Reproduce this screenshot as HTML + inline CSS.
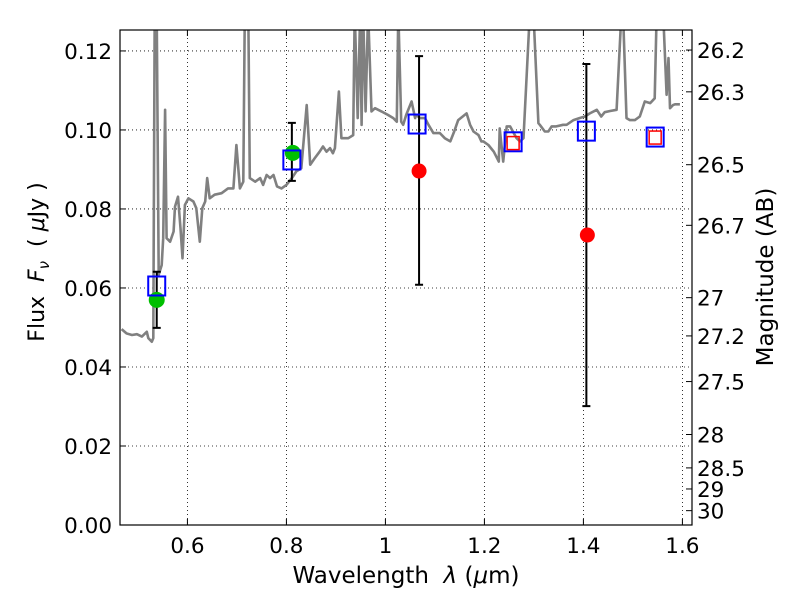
<!DOCTYPE html>
<html><head><meta charset="utf-8"><style>
body{margin:0;background:#fff;}
svg text{font-family:"DejaVu Sans","Liberation Sans",sans-serif;}
</style></head><body>
<svg id="chart" width="800" height="600" xmlns="http://www.w3.org/2000/svg">
<rect width="800" height="600" fill="#fff"/>
<g id="grid"></g>
<g id="clip-group" clip-path="url(#pc)"><clipPath id="pc"><rect x="120" y="30" width="572" height="495"/></clipPath>
<polyline id="spectrum" fill="none" stroke="#808080" stroke-width="2.6" stroke-linejoin="round"/>
</g>
<g id="marks"></g>
<rect x="120" y="30" width="572" height="495" fill="none" stroke="#000" stroke-width="1.2"/>
<g id="axes"></g>
<text x="406" y="583" font-size="23" text-anchor="middle">Wavelength&#160;&#160;<tspan font-style="italic">λ</tspan> (<tspan font-style="italic">μ</tspan>m)</text>
<text transform="translate(44,262) rotate(-90)" font-size="22" text-anchor="middle">Flux&#160;&#160;<tspan font-style="italic">F</tspan><tspan font-style="italic" font-size="15" dy="5">ν</tspan><tspan dy="-5">&#160;&#160;( </tspan><tspan font-style="italic">μ</tspan>Jy )</text>
<text transform="translate(773,277) rotate(-90)" font-size="23" text-anchor="middle">Magnitude (AB)</text>
</svg>
<script>
const specLam=[0.467,0.477,0.488,0.498,0.508,0.518,0.521,0.528,0.531,0.534,0.538,0.542,0.548,0.551,0.555,0.558,0.565,0.572,0.575,0.581,0.586,0.590,0.595,0.602,0.612,0.618,0.625,0.630,0.636,0.640,0.645,0.655,0.669,0.682,0.693,0.699,0.706,0.713,0.716,0.723,0.726,0.737,0.747,0.753,0.760,0.767,0.774,0.781,0.790,0.800,0.811,0.820,0.830,0.841,0.848,0.857,0.867,0.874,0.881,0.888,0.894,0.898,0.906,0.911,0.925,0.935,0.938,0.944,0.949,0.952,0.955,0.960,0.965,0.972,0.979,0.992,1.005,1.016,1.023,1.026,1.032,1.036,1.042,1.053,1.060,1.062,1.070,1.080,1.087,1.097,1.110,1.120,1.131,1.139,1.147,1.164,1.171,1.178,1.188,1.194,1.198,1.208,1.219,1.229,1.231,1.238,1.245,1.252,1.265,1.272,1.279,1.292,1.299,1.309,1.312,1.322,1.329,1.336,1.345,1.359,1.366,1.380,1.392,1.403,1.413,1.427,1.436,1.443,1.454,1.467,1.477,1.480,1.487,1.494,1.504,1.514,1.524,1.535,1.544,1.548,1.561,1.568,1.572,1.575,1.581,1.585,1.595,1.622];
const specFlux=[0.0496,0.0485,0.0481,0.0483,0.0477,0.0489,0.0473,0.0464,0.0473,0.13,0.13,0.0633,0.0658,0.0726,0.1051,0.0726,0.0717,0.0743,0.0806,0.0831,0.0751,0.0675,0.0810,0.0827,0.0819,0.0802,0.0717,0.0802,0.0819,0.0878,0.0827,0.0836,0.0840,0.0852,0.0852,0.0962,0.0852,0.0869,0.13,0.13,0.0878,0.0869,0.0878,0.0861,0.0886,0.0878,0.0886,0.0857,0.0852,0.0861,0.0878,0.0895,0.0903,0.1063,0.0912,0.0928,0.0945,0.0958,0.0945,0.0954,0.0941,0.0954,0.1097,0.0979,0.0979,0.0987,0.13,0.1030,0.13,0.1013,0.13,0.1047,0.13,0.1047,0.1055,0.1047,0.1038,0.1030,0.1021,0.13,0.1021,0.1013,0.1038,0.1072,0.1030,0.1038,0.1030,0.1030,0.1013,0.0992,0.0992,0.0979,0.0971,0.0996,0.1025,0.1042,0.1013,0.0996,0.0987,0.0971,0.0971,0.0962,0.0945,0.0920,0.1004,0.0920,0.1009,0.1009,0.0979,0.0971,0.0979,0.13,0.13,0.1017,0.1013,0.0996,0.0996,0.1009,0.1009,0.1013,0.1013,0.1025,0.1030,0.1034,0.1042,0.1051,0.1034,0.1045,0.1048,0.1051,0.13,0.13,0.1030,0.1025,0.1025,0.1034,0.1072,0.1068,0.1080,0.13,0.13,0.1089,0.1182,0.1055,0.1063,0.1065,0.1065];
const boxLam=[0.538,0.811,1.064,1.258,1.406,1.545];
const boxFlux=[0.0605,0.0924,0.1015,0.0970,0.0997,0.0982];
const redBoxLam=[1.258,1.545];
const redBoxFlux=[0.0968,0.0982];
const greenLam=[0.538,0.813];
const greenFlux=[0.0570,0.0942];
const redLam=[1.068,1.408];
const redFlux=[0.0896,0.0734];
const errLam=[0.538,0.811,1.068,1.406];
const errLo=[0.0499,0.0871,0.0608,0.0301];
const errHi=[0.0641,0.1018,0.1187,0.1167];
const xTicks=[0.6,0.8,1.0,1.2,1.4,1.6];
const xTickLabels=["0.6","0.8","1","1.2","1.4","1.6"];
const yTicks=[0,0.02,0.04,0.06,0.08,0.10,0.12];
const yTickLabels=["0.00","0.02","0.04","0.06","0.08","0.10","0.12"];
const magTicks=[26.2,26.3,26.5,26.7,27,27.2,27.5,28,28.5,29,30];
const magLabels=["26.2","26.3","26.5","26.7","27","27.2","27.5","28","28.5","29","30"];

const X0=120,X1=692,Y0=525,Y1=30,LMIN=0.4638,LMAX=1.6194,FMAX=0.1253;
const sx=l=>X0+(l-LMIN)/(LMAX-LMIN)*(X1-X0);
const sy=f=>Y0-f/FMAX*(Y0-Y1);
const NS="http://www.w3.org/2000/svg";
function mk(tag,attrs,parent){const e=document.createElementNS(NS,tag);for(const k in attrs)e.setAttribute(k,attrs[k]);parent.appendChild(e);return e;}
const grid=document.getElementById('grid'),axes=document.getElementById('axes'),marks=document.getElementById('marks');
xTicks.forEach((t,i)=>{const x=sx(t);
 const g=mk('line',{x1:x,x2:x,y1:Y1,y2:Y0,stroke:'#000','stroke-width':0.8,'stroke-dasharray':'1,3'},grid);
 
 mk('line',{x1:x,x2:x,y1:Y0,y2:Y0-6,stroke:'#000'},axes);
 mk('line',{x1:x,x2:x,y1:Y1,y2:Y1+6,stroke:'#000'},axes);
 const tx=mk('text',{x:x,y:553,'font-size':21.5,'text-anchor':'middle'},axes);tx.textContent=xTickLabels[i];
 });
yTicks.forEach((t,i)=>{const y=sy(t);
 const g=mk('line',{x1:X0,x2:X1,y1:y,y2:y,stroke:'#000','stroke-width':0.8,'stroke-dasharray':'1,3'},grid);
 
 mk('line',{x1:X0,x2:X0+6,y1:y,y2:y,stroke:'#000'},axes);
 const tx=mk('text',{x:112,y:y+8,'font-size':21.5,'text-anchor':'end'},axes);tx.textContent=yTickLabels[i];
 });
magTicks.forEach((m,i)=>{const y=sy(Math.pow(10,(23.9-m)/2.5));
 mk('line',{x1:X1,x2:X1-6,y1:y,y2:y,stroke:'#000'},axes);
 const tx=mk('text',{x:697,y:y+8,'font-size':21.5},axes);tx.textContent=magLabels[i];
 });
document.getElementById('spectrum').setAttribute('points',specLam.map((l,i)=>sx(l).toFixed(1)+','+sy(specFlux[i]).toFixed(1)).join(' '));
errLam.forEach((l,i)=>{const x=sx(l),a=sy(errLo[i]),b=sy(errHi[i]);
 const e=mk('path',{d:`M${x},${a}V${b}M${x-4},${a}H${x+4}M${x-4},${b}H${x+4}`,stroke:'#000','stroke-width':2,fill:'none'},marks);
 });
greenLam.forEach((l,i)=>{const c=mk('circle',{cx:sx(l),cy:sy(greenFlux[i]),r:8,fill:'#00bf00'},marks);
 });
redLam.forEach((l,i)=>{const c=mk('circle',{cx:sx(l),cy:sy(redFlux[i]),r:7.5,fill:'#ff0000'},marks);
 });
boxLam.forEach((l,i)=>{const r=mk('rect',{x:sx(l)-8.5,y:sy(boxFlux[i])-9.5,width:17,height:19,fill:'none',stroke:'#0000ff','stroke-width':2},marks);
 });
redBoxLam.forEach((l,i)=>{const r=mk('rect',{x:sx(l)-6,y:sy(redBoxFlux[i])-6,width:12,height:13,fill:'none',stroke:'#ff0000','stroke-width':1.5},marks);
 });
</script>
</body></html>
